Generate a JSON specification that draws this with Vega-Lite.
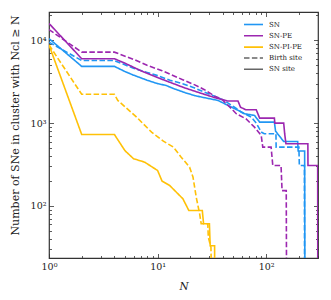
{
  "$schema": "https://vega.github.io/schema/vega-lite/v6.json",
  "width": 269,
  "height": 246,
  "autosize": "none",
  "padding": {"left": 49, "top": 12, "right": 13, "bottom": 42},
  "background": "white",
  "config": {
    "view": {"stroke": "#333", "strokeWidth": 1.2},
    "axis": {"domain": false, "grid": false, "tickColor": "#333", "tickWidth": 0.8, "labelFont": "DejaVu Serif", "labelFontSize": 9.5, "labelColor": "#222", "titleFont": "DejaVu Serif", "titleColor": "#222", "titleFontWeight": "normal", "labelOverlap": false, "labelFlush": false},
    "legend": {"labelFont": "DejaVu Serif", "labelFontSize": 7, "labelColor": "#222"}
  },
  "data": {"values": [
    {"model":"SN","site":"SN site","i":0,"N":1,"v":10500},{"model":"SN","site":"SN site","i":1,"N":2,"v":4850},{"model":"SN","site":"SN site","i":2,"N":4,"v":4850},{"model":"SN","site":"SN site","i":3,"N":5,"v":4200},{"model":"SN","site":"SN site","i":4,"N":6,"v":3800},{"model":"SN","site":"SN site","i":5,"N":8,"v":3300},{"model":"SN","site":"SN site","i":6,"N":10,"v":3000},{"model":"SN","site":"SN site","i":7,"N":12,"v":2850},{"model":"SN","site":"SN site","i":8,"N":14,"v":2620},{"model":"SN","site":"SN site","i":9,"N":18,"v":2330},{"model":"SN","site":"SN site","i":10,"N":22,"v":2150},{"model":"SN","site":"SN site","i":11,"N":27,"v":2030},{"model":"SN","site":"SN site","i":12,"N":36,"v":1880},{"model":"SN","site":"SN site","i":13,"N":44,"v":1650},{"model":"SN","site":"SN site","i":14,"N":55,"v":1430},{"model":"SN","site":"SN site","i":15,"N":63,"v":1300},{"model":"SN","site":"SN site","i":16,"N":78,"v":1240},{"model":"SN","site":"SN site","i":17,"N":87,"v":1030},{"model":"SN","site":"SN site","i":18,"N":119,"v":1030},{"model":"SN","site":"SN site","i":19,"N":122,"v":800},{"model":"SN","site":"SN site","i":20,"N":145,"v":600},{"model":"SN","site":"SN site","i":21,"N":195,"v":600},{"model":"SN","site":"SN site","i":22,"N":197,"v":460},{"model":"SN","site":"SN site","i":23,"N":226,"v":460},{"model":"SN","site":"SN site","i":24,"N":228,"v":1},
    {"model":"SN","site":"Birth site","i":0,"N":1,"v":9500},{"model":"SN","site":"Birth site","i":1,"N":2,"v":5700},{"model":"SN","site":"Birth site","i":2,"N":4,"v":5700},{"model":"SN","site":"Birth site","i":3,"N":6,"v":4600},{"model":"SN","site":"Birth site","i":4,"N":8,"v":4100},{"model":"SN","site":"Birth site","i":5,"N":10,"v":3750},{"model":"SN","site":"Birth site","i":6,"N":13,"v":3300},{"model":"SN","site":"Birth site","i":7,"N":17,"v":3000},{"model":"SN","site":"Birth site","i":8,"N":22,"v":2650},{"model":"SN","site":"Birth site","i":9,"N":27,"v":2370},{"model":"SN","site":"Birth site","i":10,"N":34,"v":2100},{"model":"SN","site":"Birth site","i":11,"N":41,"v":1880},{"model":"SN","site":"Birth site","i":12,"N":51,"v":1560},{"model":"SN","site":"Birth site","i":13,"N":59,"v":1360},{"model":"SN","site":"Birth site","i":14,"N":73,"v":1180},{"model":"SN","site":"Birth site","i":15,"N":81,"v":1000},{"model":"SN","site":"Birth site","i":16,"N":90,"v":780},{"model":"SN","site":"Birth site","i":17,"N":96,"v":745},{"model":"SN","site":"Birth site","i":18,"N":123,"v":745},{"model":"SN","site":"Birth site","i":19,"N":123.5,"v":513},{"model":"SN","site":"Birth site","i":20,"N":200,"v":513},{"model":"SN","site":"Birth site","i":21,"N":202,"v":308},{"model":"SN","site":"Birth site","i":22,"N":225,"v":308},{"model":"SN","site":"Birth site","i":23,"N":226,"v":1},
    {"model":"SN-PE","site":"SN site","i":0,"N":1,"v":16000},{"model":"SN-PE","site":"SN site","i":1,"N":2,"v":6000},{"model":"SN-PE","site":"SN site","i":2,"N":4,"v":6000},{"model":"SN-PE","site":"SN site","i":3,"N":5,"v":5300},{"model":"SN-PE","site":"SN site","i":4,"N":7,"v":4300},{"model":"SN-PE","site":"SN site","i":5,"N":10,"v":3550},{"model":"SN-PE","site":"SN site","i":6,"N":14,"v":3000},{"model":"SN-PE","site":"SN site","i":7,"N":18,"v":2650},{"model":"SN-PE","site":"SN site","i":8,"N":25,"v":2300},{"model":"SN-PE","site":"SN site","i":9,"N":35,"v":2000},{"model":"SN-PE","site":"SN site","i":10,"N":44,"v":1850},{"model":"SN-PE","site":"SN site","i":11,"N":55,"v":1850},{"model":"SN-PE","site":"SN site","i":12,"N":58,"v":1560},{"model":"SN-PE","site":"SN site","i":13,"N":65,"v":1450},{"model":"SN-PE","site":"SN site","i":14,"N":81,"v":1450},{"model":"SN-PE","site":"SN site","i":15,"N":87,"v":1150},{"model":"SN-PE","site":"SN site","i":16,"N":119,"v":1150},{"model":"SN-PE","site":"SN site","i":17,"N":120,"v":1000},{"model":"SN-PE","site":"SN site","i":18,"N":145,"v":1000},{"model":"SN-PE","site":"SN site","i":19,"N":148,"v":745},{"model":"SN-PE","site":"SN site","i":20,"N":152,"v":563},{"model":"SN-PE","site":"SN site","i":21,"N":242,"v":563},{"model":"SN-PE","site":"SN site","i":22,"N":242.5,"v":308},{"model":"SN-PE","site":"SN site","i":23,"N":298,"v":308},{"model":"SN-PE","site":"SN site","i":24,"N":299,"v":1},
    {"model":"SN-PE","site":"Birth site","i":0,"N":1,"v":13500},{"model":"SN-PE","site":"Birth site","i":1,"N":2,"v":7200},{"model":"SN-PE","site":"Birth site","i":2,"N":4,"v":7200},{"model":"SN-PE","site":"Birth site","i":3,"N":6,"v":5900},{"model":"SN-PE","site":"Birth site","i":4,"N":8,"v":5000},{"model":"SN-PE","site":"Birth site","i":5,"N":11,"v":4300},{"model":"SN-PE","site":"Birth site","i":6,"N":17,"v":3350},{"model":"SN-PE","site":"Birth site","i":7,"N":22,"v":2900},{"model":"SN-PE","site":"Birth site","i":8,"N":27,"v":2535},{"model":"SN-PE","site":"Birth site","i":9,"N":34,"v":2100},{"model":"SN-PE","site":"Birth site","i":10,"N":38.6,"v":1970},{"model":"SN-PE","site":"Birth site","i":11,"N":48,"v":1490},{"model":"SN-PE","site":"Birth site","i":12,"N":53,"v":1300},{"model":"SN-PE","site":"Birth site","i":13,"N":65,"v":1130},{"model":"SN-PE","site":"Birth site","i":14,"N":78,"v":895},{"model":"SN-PE","site":"Birth site","i":15,"N":90,"v":710},{"model":"SN-PE","site":"Birth site","i":16,"N":93,"v":513},{"model":"SN-PE","site":"Birth site","i":17,"N":111,"v":513},{"model":"SN-PE","site":"Birth site","i":18,"N":115,"v":308},{"model":"SN-PE","site":"Birth site","i":19,"N":137,"v":308},{"model":"SN-PE","site":"Birth site","i":20,"N":140,"v":153},{"model":"SN-PE","site":"Birth site","i":21,"N":153,"v":153},{"model":"SN-PE","site":"Birth site","i":22,"N":155,"v":1},
    {"model":"SN-PI-PE","site":"SN site","i":0,"N":1,"v":8800},{"model":"SN-PI-PE","site":"SN site","i":1,"N":2,"v":730},{"model":"SN-PI-PE","site":"SN site","i":2,"N":4,"v":730},{"model":"SN-PI-PE","site":"SN site","i":3,"N":5,"v":466},{"model":"SN-PI-PE","site":"SN site","i":4,"N":6,"v":372},{"model":"SN-PI-PE","site":"SN site","i":5,"N":7.6,"v":338},{"model":"SN-PI-PE","site":"SN site","i":6,"N":10,"v":268},{"model":"SN-PI-PE","site":"SN site","i":7,"N":11,"v":199},{"model":"SN-PI-PE","site":"SN site","i":8,"N":12.9,"v":177},{"model":"SN-PI-PE","site":"SN site","i":9,"N":14.4,"v":153},{"model":"SN-PI-PE","site":"SN site","i":10,"N":17.1,"v":122},{"model":"SN-PI-PE","site":"SN site","i":11,"N":19.4,"v":88},{"model":"SN-PI-PE","site":"SN site","i":12,"N":25.8,"v":88},{"model":"SN-PI-PE","site":"SN site","i":13,"N":26.5,"v":61},{"model":"SN-PI-PE","site":"SN site","i":14,"N":30,"v":61},{"model":"SN-PI-PE","site":"SN site","i":15,"N":30.5,"v":33},{"model":"SN-PI-PE","site":"SN site","i":16,"N":33.5,"v":33},{"model":"SN-PI-PE","site":"SN site","i":17,"N":33.6,"v":1},
    {"model":"SN-PI-PE","site":"Birth site","i":0,"N":1,"v":8800},{"model":"SN-PI-PE","site":"Birth site","i":1,"N":2,"v":2230},{"model":"SN-PI-PE","site":"Birth site","i":2,"N":4,"v":2230},{"model":"SN-PI-PE","site":"Birth site","i":3,"N":4.3,"v":1880},{"model":"SN-PI-PE","site":"Birth site","i":4,"N":6.4,"v":1183},{"model":"SN-PI-PE","site":"Birth site","i":5,"N":8.8,"v":778},{"model":"SN-PI-PE","site":"Birth site","i":6,"N":11.3,"v":605},{"model":"SN-PI-PE","site":"Birth site","i":7,"N":14,"v":513},{"model":"SN-PI-PE","site":"Birth site","i":8,"N":16.5,"v":388},{"model":"SN-PI-PE","site":"Birth site","i":9,"N":19.7,"v":294},{"model":"SN-PI-PE","site":"Birth site","i":10,"N":21.2,"v":222},{"model":"SN-PI-PE","site":"Birth site","i":11,"N":22.7,"v":127},{"model":"SN-PI-PE","site":"Birth site","i":12,"N":24.4,"v":80},{"model":"SN-PI-PE","site":"Birth site","i":13,"N":25.2,"v":61},{"model":"SN-PI-PE","site":"Birth site","i":14,"N":29,"v":61},{"model":"SN-PI-PE","site":"Birth site","i":15,"N":29.3,"v":42},{"model":"SN-PI-PE","site":"Birth site","i":16,"N":31,"v":31.6},{"model":"SN-PI-PE","site":"Birth site","i":17,"N":32.5,"v":1}
  ]},
  "layer": [
    {
      "mark": {"type": "line", "strokeWidth": 1.6, "clip": true},
      "encoding": {
        "x": {"field": "N", "type": "quantitative",
          "scale": {"type": "log", "domain": [1, 300], "nice": false, "zero": false},
          "axis": {"orient": "bottom", "title": "N", "titleFontStyle": "italic", "titleFontSize": 10.5, "titlePadding": 8.5,
            "values": [1,2,3,4,5,6,7,8,9,10,20,30,40,50,60,70,80,90,100,200,300],
            "tickSize": {"condition": {"test": "indexof([1,10,100], datum.value) >= 0", "value": -4.5}, "value": -2.5},
            "labelPadding": 7.5,
            "labelExpr": "datum.value == 1 ? '10⁰' : datum.value == 10 ? '10¹' : datum.value == 100 ? '10²' : ''"}},
        "y": {"field": "v", "type": "quantitative",
          "scale": {"type": "log", "domain": [23.5, 22000], "nice": false, "zero": false},
          "axis": {"orient": "left", "title": "Number of SNe in cluster with Ncl ≥ N", "titleFontSize": 11, "titlePadding": 9.5, "titleY": 113,
            "values": [30,40,50,60,70,80,90,100,200,300,400,500,600,700,800,900,1000,2000,3000,4000,5000,6000,7000,8000,9000,10000,20000],
            "tickSize": {"condition": {"test": "indexof([100,1000,10000], datum.value) >= 0", "value": -4.5}, "value": -2.5},
            "labelPadding": 7.5,
            "labelExpr": "datum.value == 100 ? '10²' : datum.value == 1000 ? '10³' : datum.value == 10000 ? '10⁴' : ''"}},
        "color": {"field": "model", "type": "nominal",
          "scale": {"domain": ["SN", "SN-PE", "SN-PI-PE"], "range": ["#2196F3", "#9C27B0", "#FFC107"]},
          "legend": {"title": null, "orient": "none", "legendX": 194, "legendY": 8, "symbolType": "stroke", "symbolSize": 361, "symbolStrokeWidth": 1.6, "clipHeight": 9, "rowPadding": 2.3, "labelOffset": 5, "padding": 0}},
        "strokeDash": {"field": "site", "type": "nominal",
          "scale": {"domain": ["Birth site", "SN site"], "range": [[5.5, 2.4], [1, 0]]},
          "legend": {"title": null, "orient": "none", "legendX": 194, "legendY": 41.5, "symbolType": "stroke", "symbolSize": 361, "symbolStrokeWidth": 1.6, "symbolStrokeColor": "#666", "clipHeight": 9, "rowPadding": 2.3, "labelOffset": 5, "padding": 0}},
        "detail": {"field": "site"},
        "order": {"field": "i", "type": "quantitative"}
      }
    },
    {
      "mark": {"type": "point", "opacity": 0},
      "encoding": {
        "x": {"field": "N", "type": "quantitative",
          "axis": {"orient": "top", "title": null, "labels": false,
            "values": [1,2,3,4,5,6,7,8,9,10,20,30,40,50,60,70,80,90,100,200,300],
            "tickSize": {"condition": {"test": "indexof([1,10,100], datum.value) >= 0", "value": -4.5}, "value": -2.5}}},
        "y": {"field": "v", "type": "quantitative",
          "axis": {"orient": "right", "title": null, "labels": false,
            "values": [30,40,50,60,70,80,90,100,200,300,400,500,600,700,800,900,1000,2000,3000,4000,5000,6000,7000,8000,9000,10000,20000],
            "tickSize": {"condition": {"test": "indexof([100,1000,10000], datum.value) >= 0", "value": -4.5}, "value": -2.5}}}
      }
    }
  ]
}
